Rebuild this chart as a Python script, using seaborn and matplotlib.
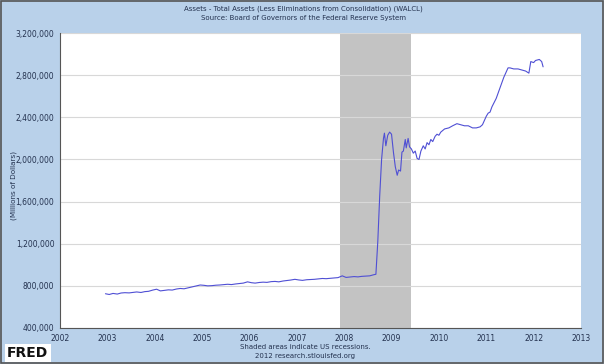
import matplotlib
matplotlib.use('Agg')
import matplotlib.pyplot as plt
import matplotlib.ticker as mticker
import seaborn as sns
import pandas as pd

# decimal year of each reading, total assets in millions of dollars
years = [
    2002.96, 2003.04, 2003.12, 2003.21, 2003.29, 2003.37, 2003.46, 2003.54, 2003.62, 2003.71,
    2003.79, 2003.87, 2003.96, 2004.04, 2004.12, 2004.21, 2004.29, 2004.37, 2004.46, 2004.54,
    2004.62, 2004.71, 2004.79, 2004.87, 2004.96, 2005.04, 2005.12, 2005.21, 2005.29, 2005.37,
    2005.46, 2005.54, 2005.62, 2005.71, 2005.79, 2005.87, 2005.96, 2006.04, 2006.12, 2006.21,
    2006.29, 2006.37, 2006.46, 2006.54, 2006.62, 2006.71, 2006.79, 2006.87, 2006.96, 2007.04,
    2007.12, 2007.21, 2007.29, 2007.37, 2007.46, 2007.54, 2007.62, 2007.71, 2007.79, 2007.87,
    2007.96, 2008.04, 2008.12, 2008.21, 2008.29, 2008.37, 2008.46, 2008.54, 2008.62, 2008.67,
    2008.71, 2008.75, 2008.79, 2008.83, 2008.85, 2008.88, 2008.92, 2008.96, 2009.00, 2009.04,
    2009.08, 2009.12, 2009.15, 2009.19, 2009.22, 2009.25, 2009.29, 2009.31, 2009.35, 2009.38,
    2009.42, 2009.46, 2009.50, 2009.54, 2009.58, 2009.62, 2009.67, 2009.71, 2009.75, 2009.79,
    2009.83, 2009.87, 2009.92, 2009.96, 2010.00, 2010.04, 2010.12, 2010.21, 2010.29, 2010.38,
    2010.46, 2010.54, 2010.62, 2010.71, 2010.79, 2010.87, 2010.92, 2011.00, 2011.04, 2011.08,
    2011.12, 2011.21, 2011.29, 2011.37, 2011.46, 2011.50, 2011.58, 2011.67, 2011.75, 2011.83,
    2011.90, 2011.94, 2012.00, 2012.04, 2012.12, 2012.17, 2012.20,
]
assets = [
    725, 718, 728, 722, 732, 735, 733, 738, 742, 737,
    745, 748, 760, 768, 752, 757, 762, 760, 770, 775,
    772, 782, 790, 798, 808, 805, 800, 802, 806, 808,
    812, 815, 812, 818, 822, 826, 838, 830, 826, 832,
    835, 833, 840, 842, 838, 846, 850, 855, 862, 856,
    852, 858, 860, 862, 866, 870, 868, 872, 875, 878,
    895, 880, 884, 888, 885, 890, 893, 895, 905, 910,
    1220, 1650, 2000, 2200, 2250, 2130, 2230, 2260, 2240, 2070,
    1930, 1850, 1900, 1890, 2070, 2080, 2190, 2110, 2200, 2120,
    2100, 2060, 2080, 2010, 2000, 2080, 2130, 2100, 2160, 2140,
    2190, 2170, 2220, 2240, 2230, 2260, 2290, 2300, 2320, 2340,
    2330, 2320, 2320, 2300, 2300, 2310, 2330, 2410, 2440, 2450,
    2500, 2580, 2680, 2780, 2870, 2870, 2860, 2860, 2850, 2840,
    2820, 2930, 2920, 2940, 2950, 2930, 2880,
]
assets = [v * 1000 for v in assets]

recession = (2007.92, 2009.42)

df = pd.DataFrame({'year': years, 'assets': assets})

bg = '#b9d1ea'
txt = '#24324f'

sns.set_style('white')
plt.rcParams['font.family'] = ['DejaVu Sans']

fig = plt.figure(figsize=(6.04, 3.64), dpi=100, facecolor=bg)
ax = fig.add_axes([0.0993, 0.099, 0.8626, 0.81])
ax.set_facecolor('white')

ax.axvspan(*recession, color='#c3c3c3', lw=0, zorder=0)
sns.lineplot(data=df, x='year', y='assets', ax=ax, color='#4f4fd4', lw=0.8, zorder=3)

ax.set_xlim(2002, 2013)
ax.set_ylim(400000, 3200000)
ax.set_xticks(range(2002, 2014))
ax.set_yticks(range(400000, 3200001, 400000))
ax.yaxis.set_major_formatter(mticker.FuncFormatter(lambda v, p: f'{int(v):,}'))
ax.grid(axis='y', color='#d8d8d8', lw=0.8)
ax.set_axisbelow(True)
ax.tick_params(labelsize=5.5, colors='#555555', labelcolor=txt, length=3, width=0.6, pad=1)
for s in ['top', 'right']:
    ax.spines[s].set_visible(False)
for s in ['left', 'bottom']:
    ax.spines[s].set_color('#555555')
    ax.spines[s].set_linewidth(0.8)
ax.set_xlabel('')
ax.set_ylabel('')

fig.text(0.022, 0.49, '(Millions of Dollars)', rotation=90, ha='center', va='center',
         fontsize=5.2, color=txt)
fig.text(0.503, 0.975, 'Assets - Total Assets (Less Eliminations from Consolidation) (WALCL)',
         ha='center', va='center', fontsize=5, color=txt)
fig.text(0.503, 0.95, 'Source: Board of Governors of the Federal Reserve System',
         ha='center', va='center', fontsize=5, color=txt)
fig.text(0.505, 0.047, 'Shaded areas indicate US recessions.',
         ha='center', va='center', fontsize=5, color=txt)
fig.text(0.505, 0.022, '2012 research.stlouisfed.org',
         ha='center', va='center', fontsize=5, color=txt)
fig.text(0.012, 0.03, 'FRED', ha='left', va='center', fontsize=10, fontweight='bold',
         color='#111111', bbox=dict(facecolor='white', edgecolor='none', pad=1.5))

fig.patches.append(plt.Rectangle((0.002, 0.003), 0.996, 0.994, transform=fig.transFigure,
                                 fill=False, edgecolor='#555555', lw=1.2))

fig.savefig('out.png', dpi=100, facecolor=bg)
